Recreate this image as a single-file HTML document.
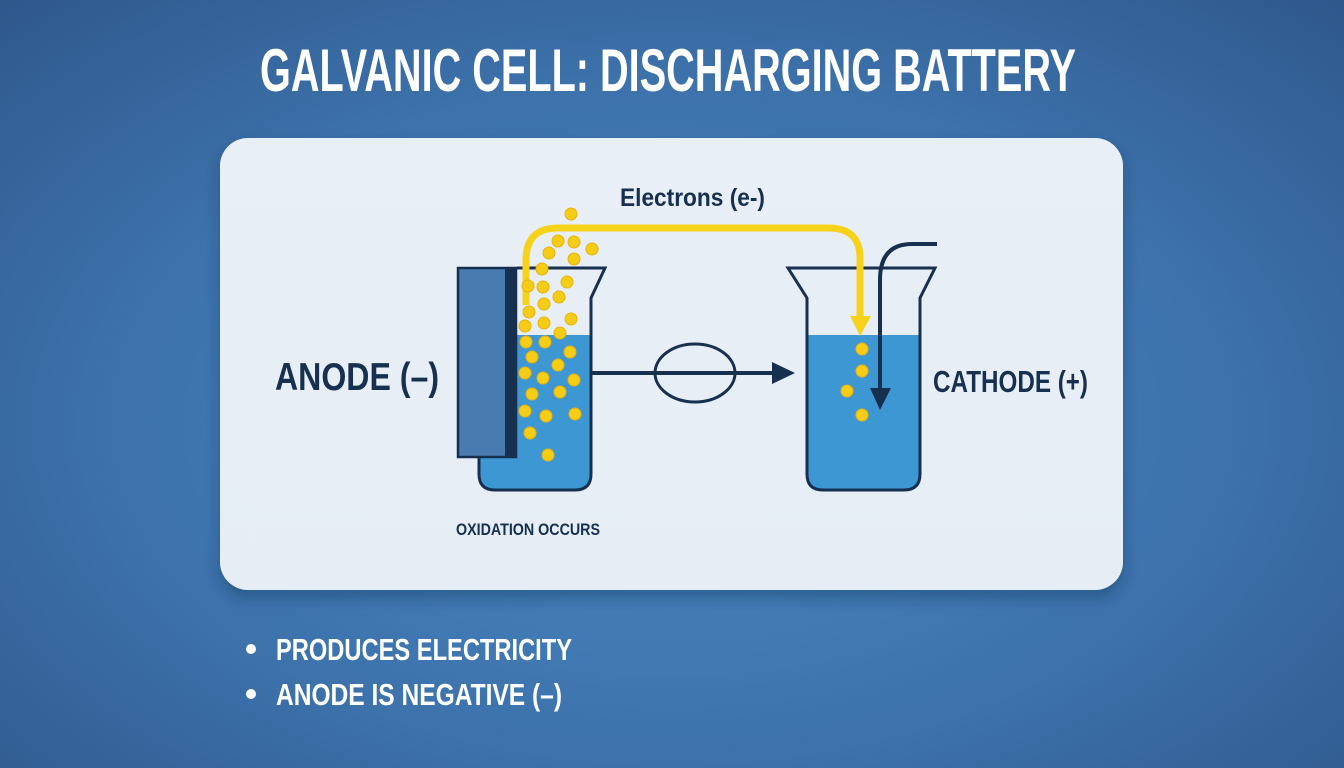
<!DOCTYPE html>
<html><head><meta charset="utf-8"><style>
html,body{margin:0;padding:0;width:1344px;height:768px;overflow:hidden}
body{background:radial-gradient(ellipse 75% 80% at 50% 55%,#4a88c2 0%,#3d72ab 55%,#2d5589 100%)}
svg{position:absolute;left:0;top:0}
text{font-family:"Liberation Sans",sans-serif;font-weight:bold}
</style></head><body>
<svg width="1344" height="768" viewBox="0 0 1344 768">
<defs>
<filter id="sh" x="-10%" y="-10%" width="120%" height="130%"><feDropShadow dx="0" dy="8" stdDeviation="8" flood-color="#102a4a" flood-opacity="0.35"/></filter>
<linearGradient id="pg" x1="0" y1="0" x2="0" y2="1"><stop offset="0" stop-color="#e9eff7"/><stop offset="1" stop-color="#e6edf5"/></linearGradient>
</defs>
<text x="260" y="91" font-size="60" fill="#fff" textLength="816" lengthAdjust="spacingAndGlyphs">GALVANIC CELL: DISCHARGING BATTERY</text>
<rect x="220" y="138" width="903" height="452" rx="28" fill="url(#pg)" filter="url(#sh)"/>

<!-- left beaker water -->
<path d="M479 335 H591 V474 Q591 490 575 490 H495 Q479 490 479 474 Z" fill="#3d97d3"/>
<path d="M517 268 H605 L591 298 V474 Q591 490 575 490 H495 Q479 490 479 474 V457" fill="none" stroke="#17304f" stroke-width="3"/>
<!-- electrode -->
<rect x="458" y="268" width="58" height="189" fill="#4a7bb0" stroke="#17304f" stroke-width="2.5"/>
<rect x="505" y="268" width="12" height="189" fill="#17304f"/>

<!-- right beaker -->
<path d="M807 335 H920 V474 Q920 490 904 490 H823 Q807 490 807 474 Z" fill="#3d97d3"/>
<path d="M788 268 H935 L920 298 V474 Q920 490 904 490 H823 Q807 490 807 474 V298 Z" fill="none" stroke="#17304f" stroke-width="3"/>

<!-- horizontal arrow -->
<line x1="591" y1="373" x2="775" y2="373" stroke="#17304f" stroke-width="4"/>
<polygon points="772,362 795,373 772,384" fill="#17304f"/>
<ellipse cx="695" cy="373" rx="40" ry="29" fill="none" stroke="#17304f" stroke-width="3"/>

<!-- yellow wire -->
<path d="M526 305 V260 Q526 228 558 228 H828 Q860 228 860 258 V318" fill="none" stroke="#f7d21a" stroke-width="7"/>
<polygon points="850,316 871,316 860,336" fill="#f7d21a"/>

<!-- dark arrow -->
<path d="M937 244 H912 Q880 244 880 280 V392" fill="none" stroke="#17304f" stroke-width="4"/>
<polygon points="870,388 891,388 880,410" fill="#17304f"/>

<g fill="#f5cc16" stroke="#e8b40a" stroke-width="1">
<circle cx="571" cy="214" r="6"/><circle cx="558" cy="241" r="6"/><circle cx="574" cy="242" r="6"/><circle cx="592" cy="249" r="6"/><circle cx="549" cy="253" r="6"/><circle cx="574" cy="259" r="6"/><circle cx="542" cy="269" r="6"/><circle cx="528" cy="286" r="6"/><circle cx="543" cy="287" r="6"/><circle cx="567" cy="282" r="6"/><circle cx="559" cy="297" r="6"/><circle cx="544" cy="304" r="6"/><circle cx="529" cy="312" r="6"/><circle cx="525" cy="326" r="6"/><circle cx="544" cy="323" r="6"/><circle cx="571" cy="319" r="6"/><circle cx="560" cy="333" r="6"/><circle cx="526" cy="342" r="6"/><circle cx="545" cy="342" r="6"/><circle cx="532" cy="357" r="6"/><circle cx="570" cy="352" r="6"/><circle cx="558" cy="365" r="6"/><circle cx="525" cy="373" r="6"/><circle cx="543" cy="378" r="6"/><circle cx="574" cy="380" r="6"/><circle cx="532" cy="394" r="6"/><circle cx="560" cy="392" r="6"/><circle cx="525" cy="411" r="6"/><circle cx="546" cy="416" r="6"/><circle cx="575" cy="414" r="6"/><circle cx="530" cy="433" r="6"/><circle cx="548" cy="455" r="6"/>
<circle cx="862" cy="349" r="6"/><circle cx="862" cy="371" r="6"/><circle cx="847" cy="391" r="6"/><circle cx="862" cy="415" r="6"/>
</g>

<g fill="#17304f">
<text x="620" y="206" font-size="25" textLength="145" lengthAdjust="spacingAndGlyphs">Electrons (e-)</text>
<text x="275" y="390" font-size="39" textLength="164" lengthAdjust="spacingAndGlyphs">ANODE (–)</text>
<text x="933" y="392" font-size="31" textLength="155" lengthAdjust="spacingAndGlyphs">CATHODE (+)</text>
<text x="456" y="535" font-size="17" textLength="144" lengthAdjust="spacingAndGlyphs">OXIDATION OCCURS</text>
</g>
<g fill="#fff">
<circle cx="251" cy="649" r="5"/><circle cx="251" cy="694" r="5"/>
<text x="276" y="660" font-size="31" textLength="296" lengthAdjust="spacingAndGlyphs">PRODUCES ELECTRICITY</text>
<text x="276" y="705" font-size="31" textLength="286" lengthAdjust="spacingAndGlyphs">ANODE IS NEGATIVE (–)</text>
</g>
</svg>
</body></html>
